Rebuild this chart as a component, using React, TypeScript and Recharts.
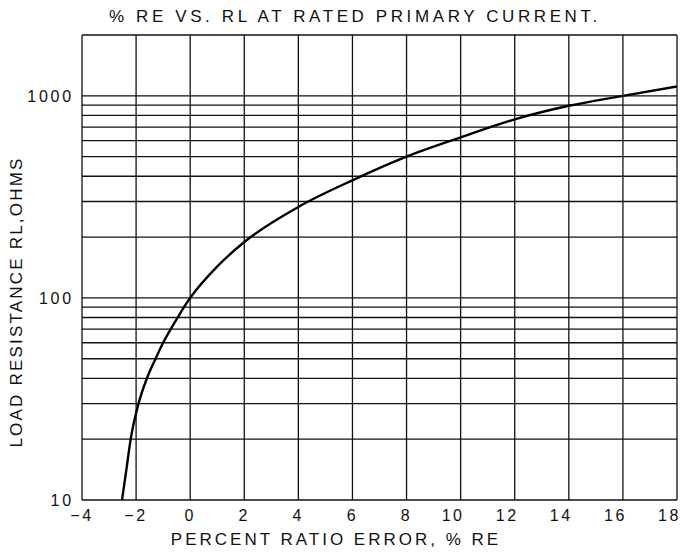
import React from "react";
import { LineChart, Line, XAxis, YAxis, ReferenceLine } from "recharts";

// percent ratio error (x) vs load resistance in ohms (y)
const RE_VALUES = [-2.52, -2.36, -2.2, -1.91, -1.6, -1.28, -1.0, -0.72, -0.46, -0.23, 0, 1, 2, 4, 6, 8, 10, 12, 14, 16, 18];
const RL_VALUES = [10, 14.1, 20, 30, 40, 50, 60, 70, 80, 90, 100, 143, 189, 282, 382, 500, 623, 765, 893, 1000, 1112];

const X_TICKS = [-4, -2, 0, 2, 4, 6, 8, 10, 12, 14, 16, 18];
const Y_TICKS = [10, 100, 1000];
const Y_GRID = [20, 30, 40, 50, 60, 70, 80, 90, 100, 200, 300, 400, 500, 600, 700, 800, 900, 1000];

const TITLE = "% RE VS. RL AT RATED PRIMARY CURRENT.";
const X_TITLE = "PERCENT RATIO ERROR, % RE";
const Y_TITLE = "LOAD RESISTANCE RL,OHMS";

const data = RE_VALUES.map((x, i) => ({ x, rl: RL_VALUES[i] }));

const FONT = "'Liberation Sans', Arial, sans-serif";
const INK = "#111";

const fmt = (v: number) => (v < 0 ? `\u2212${-v}` : `${v}`);

// two digit labels sit a bit left of their grid line in the original
const XTick = (props: any) => {
    const { x, y, payload } = props;
    const v = payload.value as number;
    const wide = v >= 10;
    return (
        <text x={wide ? x + 4 : x} y={y + 13} textAnchor={wide ? "end" : "middle"}
            fontSize={16} fontFamily={FONT} letterSpacing={2.6} fill={INK}>
            {fmt(v)}
        </text>
    );
};

export default function App() {
    return (
        <div style={{ position: "absolute", left: 0, top: 0, width: 681, height: 555, background: "#fff", fontFamily: FONT }}>
            <LineChart width={681} height={555} data={data} margin={{ top: 35, right: 4, left: 22, bottom: 0 }}>
                <XAxis dataKey="x" type="number" domain={[-4, 18]} ticks={X_TICKS} allowDataOverflow
                    axisLine={false} tickLine={false} height={55} tick={<XTick />} interval={0} />
                <YAxis type="number" scale="log" domain={[10, 2000]} ticks={Y_TICKS} allowDataOverflow
                    axisLine={false} tickLine={false} width={60} interval={0}
                    tick={{ fontSize: 16, fontFamily: FONT, fill: INK, letterSpacing: 2.8 }} />
                {X_TICKS.map(v => (
                    <ReferenceLine key={`v${v}`} x={v} stroke={INK} strokeWidth={1.3} ifOverflow="visible" />
                ))}
                {Y_GRID.map(v => (
                    <ReferenceLine key={`h${v}`} y={v} stroke={INK} strokeWidth={1.3} ifOverflow="visible" />
                ))}
                <ReferenceLine y={10} stroke={INK} strokeWidth={1.6} />
                <ReferenceLine y={2000} stroke={INK} strokeWidth={1.6} />
                <Line dataKey="rl" type="monotone" stroke="#000" strokeWidth={2.4} dot={false} isAnimationActive={false} />
            </LineChart>
            <div style={{ position: "absolute", left: 0, width: 710, top: 7, textAlign: "center", fontSize: 17, letterSpacing: 3.6, color: INK, lineHeight: "20px" }}>
                {TITLE}
            </div>
            <div style={{ position: "absolute", left: 0, width: 672, top: 530, textAlign: "center", fontSize: 17, letterSpacing: 3.0, color: INK, lineHeight: "20px" }}>
                {X_TITLE}
            </div>
            <div style={{
                position: "absolute", left: 17, top: 302, width: 320, marginLeft: -160, marginTop: -10,
                textAlign: "center", fontSize: 17, letterSpacing: 2.2, color: INK, lineHeight: "20px",
                transform: "rotate(-90deg)", whiteSpace: "nowrap"
            }}>
                {Y_TITLE}
            </div>
        </div>
    );
}
